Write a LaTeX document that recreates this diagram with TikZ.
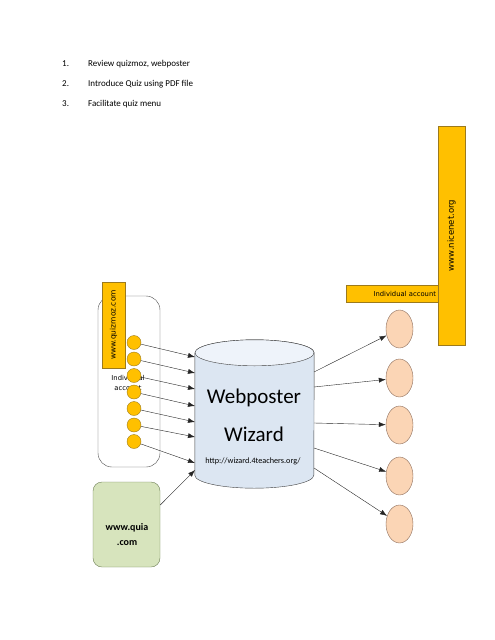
\documentclass[tikz,border=0pt]{standalone}
\usepackage{fontspec}
\setmainfont{Carlito}
\newfontfamily\dejavu{DejaVu Sans}
\usepackage{xcolor}
\usetikzlibrary{positioning}
\usetikzlibrary{arrows.meta,shapes.geometric}

\definecolor{gold}{HTML}{FFC000}
\definecolor{goldline}{HTML}{9C7A1C}
\definecolor{cylfill}{HTML}{DCE6F2}
\definecolor{cyltop}{HTML}{EEF3FA}
\definecolor{peach}{HTML}{FBD5B5}
\definecolor{peachline}{HTML}{8A6B5A}
\definecolor{quiagreen}{HTML}{D7E4BD}
\definecolor{quialine}{HTML}{6E7F55}

\tikzset{
  golden/.style={fill=gold,draw=goldline,inner sep=0pt},
  dot/.style={circle,fill=gold,draw=goldline,minimum size=14pt,inner sep=0pt},
  egg/.style={ellipse,fill=peach,draw=peachline,minimum width=27pt,minimum height=38pt,inner sep=0pt},
  arr/.style={-{Latex[length=7pt,width=5pt]},black!85},
  small/.style={font=\dejavu\fontsize{6.8}{10}\selectfont}
}

\begin{document}
\begin{tikzpicture}[x=1pt,y=-1pt]
\useasboundingbox (0,0) rectangle (495,640);

% the list
\foreach \n/\t in {1/{Review quizmoz, webposter},2/{Introduce Quiz using PDF file},3/{Facilitate quiz menu}}{
  \node[anchor=west,inner sep=0pt,font=\fontsize{9}{11}\selectfont] (num\n) at (62,44+20*\n) {\n.};
  \node[anchor=west,inner sep=0pt,font=\fontsize{9}{11}\selectfont] (item\n) at (88,44+20*\n) {\t};
}

% quizmoz side
\node[draw=black!70,rounded corners=14pt,minimum width=62pt,minimum height=171pt] (qacc) at (129,381.5) {};
\node[small,align=center] (qtxt) at (128,383) {Individual\\account};
\node[golden,rotate=90,minimum width=86pt,minimum height=23pt,font=\dejavu\fontsize{7.5}{9}\selectfont] (quizmoz) at (113.5,325) {www.quizmoz.com};
\foreach \i in {1,...,7}
  \node[dot] (c\i) at (134,326+16.5*\i) {};

% the wizard
\node[minimum width=119pt,minimum height=122pt] (wiz) at (254.5,414) {};
\filldraw[fill=cylfill,draw=black!75] (wiz.north west) -- (wiz.south west) arc (180:360:59.5pt and 13pt) -- (wiz.north east) arc (0:180:59.5pt and 13pt) -- cycle;
\filldraw[fill=cyltop,draw=black!75] (wiz.north) ellipse (59.5pt and 13pt);
\node[font=\fontsize{21}{25}\selectfont] (wp) at (254,398) {Webposter};
\node[font=\fontsize{21}{25}\selectfont] (wz) at (254,434) {Wizard};
\node[font=\fontsize{8.2}{10}\selectfont] (url) at (253,461) {http://wizard.4teachers.org/};

\foreach \i/\y in {1/357,2/373,3/389,4/406,5/422,6/437,7/463}{
  \coordinate (in\i) at (195,\y);
  \draw[arr] (c\i) -- (in\i);
}

% nicenet side
\node[golden,text width=88pt,align=right,inner xsep=2pt,minimum height=17pt,small] (indiv) at (392,293.5) {Individual account};
\node[golden,rotate=90,minimum width=219pt,minimum height=27pt,font=\dejavu\fontsize{8.5}{10}\selectfont] (nice) at (451.5,235.5) {www.nicenet.org};
\foreach \i/\y/\o in {1/329/372,2/378/387,3/425/423,4/476/448,5/524/468}{
  \node[egg] (e\i) at (399.5,\y) {};
  \coordinate (out\i) at (314,\o);
  \draw[arr] (out\i) -- (e\i);
}

% quia
\node[fill=quiagreen,draw=quialine,rounded corners=9pt,minimum width=67pt,minimum height=85pt] (quia) at (126.5,524.5) {};
\node[align=center,font=\bfseries\fontsize{10}{15}\selectfont] (quiatxt) at (127,535) {www.quia\\.com};
\coordinate (in8) at (195,470);
\draw[arr] (quia.30) -- (in8);
\end{tikzpicture}
\end{document}
